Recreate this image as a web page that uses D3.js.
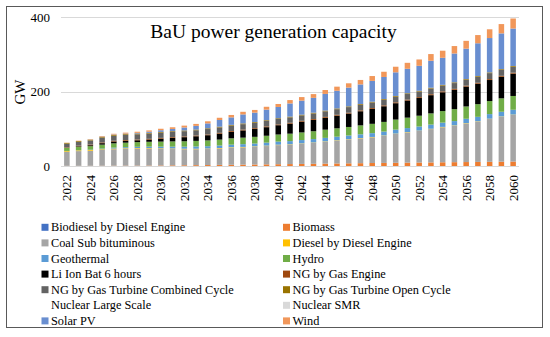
<!DOCTYPE html>
<html><head><meta charset="utf-8">
<script src="https://cdn.jsdelivr.net/npm/d3@7"></script>
<style>
html,body{margin:0;padding:0;background:#fff;}
svg text{font-family:"Liberation Serif","Times New Roman",serif;fill:#000;}
</style></head>
<body><svg id="c" width="550" height="337"></svg>
<script>
const years = d3.range(2022, 2061).map(String);
const tickYears = years.filter((d,i)=>i%2===0);
const yTicks = [0, 200, 400];
const seriesNames = ["Biodiesel by Diesel Engine","Biomass","Coal Sub bituminous","Diesel by Diesel Engine","Geothermal","Hydro","Li Ion Bat 6 hours","NG by Gas Engine","NG by Gas Turbine Combined Cycle","NG by Gas Turbine Open Cycle","Nuclear Large Scale","Nuclear SMR","Solar PV","Wind"];
const seriesColors = ["#4472C4","#ED7D31","#A5A5A5","#FFC000","#5B9BD5","#70AD47","#000000","#9E480E","#636363","#997300","none","#D9D9D9","#698ED0","#F1975A"];

const biodiesel = Array(39).fill(0);
const biomass = [0.5,0.5,0.6,0.7,0.8,0.9,1.0,1.2,1.5,1.8,2.0,2.3,2.6,3.0,3.3,3.7,4.0,4.4,4.8,5.2,5.6,6.0,6.4,6.8,7.2,7.6,8.0,8.3,8.6,9.0,9.3,9.6,10.0,10.3,10.6,11.0,11.3,11.6,12.0];
const coal = [37.5,39.5,40.4,42.3,44.2,45.1,45.5,45.3,44.5,43.7,43,42.7,42.9,44,45.7,46.3,47.5,49.1,51.2,51.8,53.9,56,58.6,61.2,63.8,66.4,69,72.7,77.4,81,84.7,89.4,94,97.7,103.4,108,114.7,120.4,125];
const diesel = [2,2,2,1.8,1.8,1.6,1.6,1.5,1.5,1.5,1.4,1.4,1.4,1.3,1.3,1.3,1.2,1.2,1.2,1.2,1.1,1.1,1.1,1.1,1,1,1,1,1,1,1,1,1,1,1,1,1,1,1];
const geothermal = [0.5,0.6,0.8,2,2.5,3,3.5,4,4.5,5,5.5,6,6.3,6.6,7,7.3,7.6,8,8.3,8.6,9,9.2,9.4,9.6,9.8,10,10.2,10.4,10.6,10.8,11,11.2,11.4,11.6,11.8,12,12.3,12.6,13];
const hydro = [8,9,9.5,10.5,11.5,12,12.5,13,13.5,14,14.5,15,15.5,16,17,17.5,18,18.5,19,20,20.5,21,22,22.5,23,24,25,26,27,28,29,30,31,32,33,34,35,36,37];
const liIon = [0,1.5,2.5,4,5,5,5,6,8,9.5,11,12.5,14,16,17.5,19.5,21,23,25,27,29,30.5,32,34,36,38,40,42,44,46,47.5,49,50.5,52,53.5,55,56.5,58,60];
const ngEngine = [1.5,1.5,1.8,2,2,2,2,2,2,2,2,2,2,2.2,2.2,2.2,2.2,2.2,2.2,2.3,2.3,2.3,2.3,2.3,2.3,2.4,2.4,2.4,2.4,2.4,2.4,2.5,2.5,2.5,2.5,2.5,2.5,2.5,2.5];
const ngCC = [10,10.5,11,13,13.5,14,14,14,14,14,14,14,14.5,14.5,14.5,14.5,14.5,14.5,14.5,14.5,14.5,15,15,15,15,15,15,15,15,15,15,15.5,15.5,15.5,15.5,16,16,16,16];
const ngOC = Array(39).fill(2);
const nuclearLarge = Array(39).fill(0);
const nuclearSMR = Array(39).fill(0);
const solar = [0,0,0.4,0.7,1.2,1.4,1.9,3,4.5,6,8,9.8,13.2,17.9,20,24.2,25.2,28.4,30.3,35.4,37.6,39.9,44.7,47.5,50.4,52.6,55.9,59.2,63.5,65.8,67.1,72.3,72.6,77.4,81.7,88,92.2,95.9,100.5];
const wind = [0.5,0.8,1,1.5,2,2.5,3,3.5,4,4.5,5,5.3,5.6,6,6.5,7,7.3,7.7,8,9,9.5,10,10.5,11,11.5,12,13,14,15,16,17,18,19,20,21,22,23.5,25,27];

const seriesValues = [biodiesel,biomass,coal,diesel,geothermal,hydro,liIon,ngEngine,ngCC,ngOC,nuclearLarge,nuclearSMR,solar,wind];

const rows = years.map((y,i)=>{const r={year:y}; seriesNames.forEach((n,k)=>r[n]=seriesValues[k][i]); return r;});
const stack = d3.stack().keys(seriesNames)(rows);

const svg = d3.select("#c");
// outer frame
svg.append("rect").attr("x",6.5).attr("y",6.5).attr("width",536).attr("height",321)
  .attr("fill","none").attr("stroke","#595959").attr("stroke-width",1);

const x = d3.scaleBand().domain(years).range([61,519]).paddingInner(0.53).paddingOuter(0.265);
const y = d3.scaleLinear().domain([0,400]).range([166,17]);

// gridlines
svg.append("g").selectAll("line").data(yTicks).join("line")
  .attr("x1",61).attr("x2",519).attr("y1",d=>Math.round(y(d))+0.5).attr("y2",d=>Math.round(y(d))+0.5)
  .attr("stroke","#D9D9D9").attr("stroke-width",1);

// bars
svg.append("g").selectAll("g").data(stack).join("g")
  .attr("fill",(d,i)=>seriesColors[i])
  .selectAll("rect").data(d=>d).join("rect")
  .attr("x",d=>x(d.data.year)).attr("width",x.bandwidth())
  .attr("y",d=>y(d[1])).attr("height",d=>Math.max(0,y(d[0])-y(d[1])));

// y axis
const ya = svg.append("g").attr("transform","translate(61,0)")
  .call(d3.axisLeft(y).tickValues(yTicks).tickSize(0).tickPadding(11));
ya.select(".domain").remove();
ya.selectAll("text").attr("font-size","13px").attr("font-family","Liberation Serif");

// x axis
const xa = svg.append("g").attr("transform","translate(0,166)")
  .call(d3.axisBottom(x).tickValues(tickYears).tickSize(0));
xa.select(".domain").remove();
xa.selectAll("text").attr("font-size","13px").attr("font-family","Liberation Serif")
  .attr("transform","rotate(-90)").attr("text-anchor","end").attr("dx","-9px").attr("dy","0").attr("x",0).attr("y",0)
  .each(function(){ d3.select(this).attr("dominant-baseline","central"); });

// title
svg.append("text").attr("x",273.5).attr("y",38).attr("text-anchor","middle")
  .attr("font-size","19.5px").text("BaU power generation capacity");

// y label
svg.append("text").attr("transform","translate(25,92) rotate(-90)").attr("text-anchor","middle")
  .attr("font-size","15px").text("GW");

// legend
const colX = [41.5, 283];
const rowY0 = 227.3, rowDy = 15.6;
const leg = svg.append("g").selectAll("g").data(seriesNames).join("g")
  .attr("transform",(d,i)=>`translate(${colX[i%2]},${rowY0 + Math.floor(i/2)*rowDy})`);
leg.append("rect").attr("x",0).attr("y",-3.5).attr("width",7).attr("height",7)
  .attr("fill",(d,i)=>seriesColors[i]);
leg.append("text").attr("x",9.5).attr("y",0).attr("dominant-baseline","central")
  .attr("font-size","12.3px").text(d=>d);
</script></body></html>
